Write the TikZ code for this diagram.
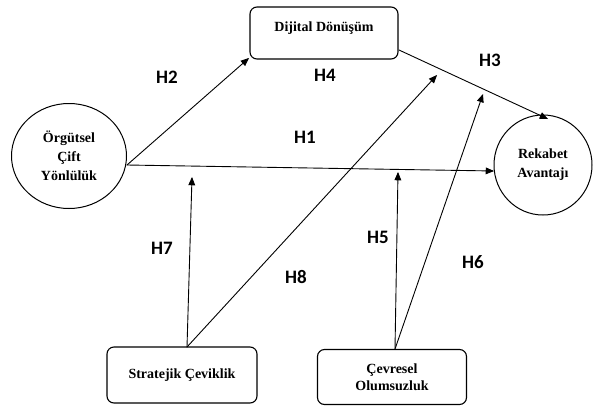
\documentclass[tikz,border=0pt]{standalone}
\usepackage{fontspec}
\setmainfont{Liberation Serif}
\newfontfamily\hfont{Carlito}
\usepackage{tikz}
\usetikzlibrary{arrows,shapes.geometric}

\tikzset{
  varbox/.style={draw,line width=1.1pt,rounded corners=7pt,font=\fontsize{14}{16.5}\selectfont\bfseries,align=center,inner sep=0pt},
  varcirc/.style={draw,line width=1pt,ellipse,font=\fontsize{14}{19}\selectfont\bfseries,align=center,inner sep=0pt},
  hyp/.style={font=\hfont\fontsize{19}{19}\selectfont\bfseries}
}

\begin{document}
\begin{tikzpicture}[line cap=round,line join=round,>=triangle 45,x=1pt,y=-1pt]
        \useasboundingbox (0,0) rectangle (594,407);
        % variables
        \node [varcirc,minimum width=115pt,minimum height=105pt] (ocy) at (69,156) {Örgütsel\\Çift\\Yönlülük};
        \node [varcirc,minimum width=98pt,minimum height=100pt] (rek) at (543,165) {Rekabet\\Avantajı};
        \draw [varbox] (250,7) rectangle (398,59);
        \node [font=\fontsize{14}{16.5}\selectfont\bfseries] (dig) at (324,28) {Dijital Dönüşüm};
        \node [varbox,minimum width=150pt,minimum height=56pt] (sce) at (182,375) {Stratejik Çeviklik};
        \node [varbox,minimum width=149pt,minimum height=55pt] (col) at (392,377) {Çevresel\\Olumsuzluk};
        % end points
        \coordinate (ocyR) at (127,165);
        \coordinate (rekL) at (494,171);
        \coordinate (digBL) at (249,58);
        \coordinate (digR) at (399,50);
        \coordinate (rekT) at (548,119);
        \coordinate (sceT) at (187,347);
        \coordinate (colT) at (395,349);
        \coordinate (h4end) at (437,75);
        \coordinate (h5end) at (398,172);
        \coordinate (h6end) at (483,94);
        \coordinate (h7end) at (192,177);
        % paths
        \draw [->,line width=0.9pt] (ocyR) -- (digBL);
        \draw [->,line width=0.9pt] (ocyR) -- (rekL);
        \draw [->,line width=0.9pt] (digR) -- (rekT);
        \draw [->,line width=0.9pt] (sceT) -- (h4end);
        \draw [->,line width=0.9pt] (sceT) -- (h7end);
        \draw [->,line width=0.9pt] (colT) -- (h5end);
        \draw [->,line width=0.9pt] (colT) -- (h6end);
        % labels
        \node [hyp] (h1) at (305,137) {H1};
        \node [hyp] (h2) at (167,77) {H2};
        \node [hyp] (h3) at (490,60) {H3};
        \node [hyp] (h4) at (325,75) {H4};
        \node [hyp] (h5) at (378,237) {H5};
        \node [hyp] (h6) at (473,262) {H6};
        \node [hyp] (h7) at (162,248) {H7};
        \node [hyp] (h8) at (296,277) {H8};
\end{tikzpicture}
\end{document}
